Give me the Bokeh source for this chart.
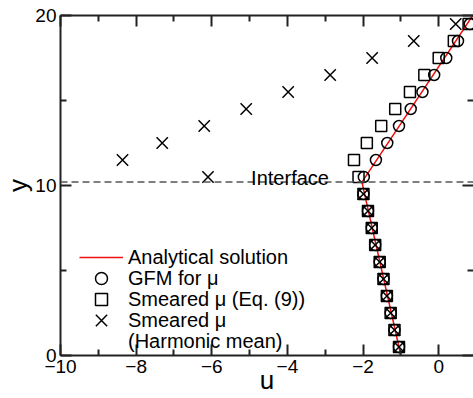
from bokeh.plotting import figure
from bokeh.models import (LinearAxis, FixedTicker, Legend, LegendItem, Label,
                          Range1d, Span)
from bokeh.embed import file_html
from bokeh.resources import INLINE

# ---- data ----
y_lower = [0.5, 1.5, 2.5, 3.5, 4.5, 5.5, 6.5, 7.5, 8.5, 9.5]
y_upper = [10.5, 11.5, 12.5, 13.5, 14.5, 15.5, 16.5, 17.5, 18.5, 19.5]
u_lower = [-1.05, -1.17, -1.27, -1.37, -1.46, -1.56, -1.68, -1.77, -1.87, -1.99]
u_gfm_upper = [-1.98, -1.66, -1.36, -1.05, -0.74, -0.43, -0.12, 0.20, 0.51, 0.82]
u_sm9_upper = [-2.12, -2.24, -1.90, -1.52, -1.15, -0.76, -0.38, 0.00, 0.40, 0.79]
u_hm_upper = [-6.10, -8.36, -7.31, -6.20, -5.09, -3.98, -2.87, -1.76, -0.66, 0.45]
ana_y = [0.0, 10.2, 20.0]
ana_u = [-1.0, -2.03, 0.90]
interface_y = 10.2
x_ticks = [-10, -8, -6, -4, -2, 0]
x_minor = [-9, -7, -5, -3, -1, 1]
y_ticks = [0, 10, 20]
y_minor = [5, 15]
legend_labels = ["Analytical solution", "GFM for \u03bc", "Smeared \u03bc (Eq. (9))",
                 "Smeared \u03bc", "(Harmonic mean)"]

y_all = y_lower + y_upper
u_gfm = u_lower + u_gfm_upper
u_sm9 = u_lower + u_sm9_upper
u_hm = u_lower + u_hm_upper

FONT = "Liberation Sans"
AX = "#222222"

p = figure(width=473, height=398, output_backend="svg", toolbar_location=None,
           x_range=Range1d(-10, 0.92), y_range=Range1d(0, 20),
           min_border_left=59, min_border_right=0, min_border_top=15,
           min_border_bottom=43, x_axis_label="u", y_axis_label="y")
p.grid.visible = False
p.outline_line_color = None
p.background_fill_color = "white"
p.border_fill_color = "white"

def style_axis(ax, ticks, labels=True):
    ax.axis_line_color = AX
    ax.axis_line_width = 2
    ax.major_tick_line_color = AX
    ax.major_tick_line_width = 2
    ax.minor_tick_line_color = AX
    ax.minor_tick_line_width = 2
    ax.major_tick_out = 0
    ax.minor_tick_out = 0
    ax.major_tick_in = 11
    ax.minor_tick_in = 6
    ax.major_label_text_font = FONT
    ax.major_label_text_color = "black"
    if labels:
        ax.major_label_text_font_size = "19px"
        ax.major_label_standoff = 4
    else:
        ax.major_label_text_font_size = "1px"
        ax.major_label_standoff = 0
        ax.major_label_overrides = {t: "" for t in ticks}
    ax.axis_label_text_font = FONT
    ax.axis_label_text_font_style = "normal"
    ax.axis_label_text_font_size = "26px"
    ax.axis_label_text_color = "black"

xt = FixedTicker(ticks=x_ticks, minor_ticks=x_minor)
yt = FixedTicker(ticks=y_ticks, minor_ticks=y_minor)
p.xaxis.ticker = xt
p.yaxis.ticker = yt
style_axis(p.xaxis[0], x_ticks)
style_axis(p.yaxis[0], y_ticks)
p.xaxis[0].axis_label_standoff = -11
p.yaxis[0].axis_label_standoff = -1

top = LinearAxis(ticker=xt)
style_axis(top, x_ticks, labels=False)
p.add_layout(top, "above")
right = LinearAxis(ticker=yt)
style_axis(right, y_ticks, labels=False)
right.axis_line_color = None
p.add_layout(right, "right")

# interface
p.add_layout(Span(location=interface_y, dimension="width", line_color="#555555",
                  line_width=1.5, line_dash="7 4"))
p.add_layout(Label(x=-4.96, y=interface_y, y_offset=4, text="Interface",
                   text_font=FONT, text_font_size="20px", text_color="black",
                   text_baseline="alphabetic"))

r_ana = p.line(ana_u, ana_y, line_color="#ee1111", line_width=1.5)
r_gfm = p.scatter(u_gfm, y_all, marker="circle", size=11, fill_color=None,
                  line_color="black", line_width=1.5)
r_sm9 = p.scatter(u_sm9, y_all, marker="square", size=11, fill_color=None,
                  line_color="black", line_width=1.5)
r_hm = p.scatter(u_hm, y_all, marker="x", size=16, line_color="black",
                 line_width=1.5)
r_blank = p.scatter([], [], marker="circle", size=0, fill_alpha=0, line_alpha=0)

# one legend per row so markers can be large while rows stay 21 px apart
renderers = [r_ana, r_gfm, r_sm9, r_hm, r_blank]
row_bottoms = [83, 62, 41, 15, -1]
glyph_heights = [30, 30, 30, 40, 30]
for lab, r, yb, gh in zip(legend_labels, renderers, row_bottoms, glyph_heights):
    lg = Legend(items=[LegendItem(label=lab, renderers=[r])],
                location=(19, yb), padding=0, margin=0, spacing=0,
                glyph_width=44, glyph_height=gh, label_height=gh, label_standoff=5,
                label_text_font=FONT, label_text_font_size="20px",
                label_text_color="black", border_line_color=None,
                background_fill_alpha=0)
    p.add_layout(lg, "center")

open("out.html", "w").write(file_html(p, INLINE))
